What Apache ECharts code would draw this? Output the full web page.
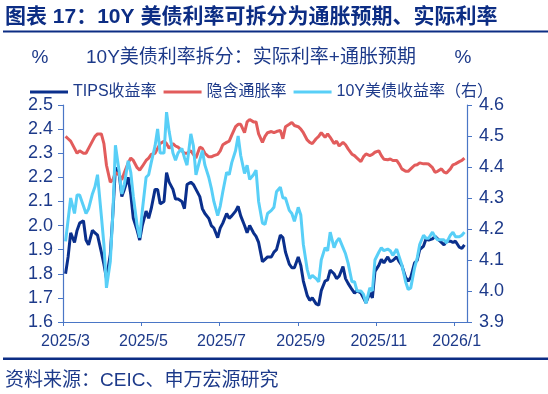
<!DOCTYPE html>
<html>
<head>
<meta charset="utf-8">
<script src="https://cdn.jsdelivr.net/npm/echarts@6/dist/echarts.min.js"></script>
<style>
html,body{margin:0;padding:0;background:#fff;}
#c{width:548px;height:394px;}
</style>
</head>
<body>
<div id="c"></div>
<script>
const dates = [
'2025-03-03','2025-03-05','2025-03-07','2025-03-10','2025-03-12','2025-03-14','2025-03-17','2025-03-19','2025-03-21',
'2025-03-24','2025-03-26','2025-03-28','2025-03-31','2025-04-02','2025-04-04','2025-04-07','2025-04-09','2025-04-11',
'2025-04-14','2025-04-16','2025-04-18','2025-04-21','2025-04-23','2025-04-25','2025-04-28','2025-04-30','2025-05-02',
'2025-05-05','2025-05-07','2025-05-09','2025-05-12','2025-05-14','2025-05-16','2025-05-19','2025-05-21','2025-05-23',
'2025-05-26','2025-05-28','2025-05-30','2025-06-02','2025-06-04','2025-06-06','2025-06-09','2025-06-11','2025-06-13',
'2025-06-16','2025-06-18','2025-06-20','2025-06-23','2025-06-25','2025-06-27','2025-06-30','2025-07-02','2025-07-04',
'2025-07-07','2025-07-09','2025-07-11','2025-07-14','2025-07-16','2025-07-18','2025-07-21','2025-07-23','2025-07-25',
'2025-07-28','2025-07-30','2025-08-01','2025-08-04','2025-08-06','2025-08-08','2025-08-11','2025-08-13','2025-08-15',
'2025-08-18','2025-08-20','2025-08-22','2025-08-25','2025-08-27','2025-08-29','2025-09-01','2025-09-03','2025-09-05',
'2025-09-08','2025-09-10','2025-09-12','2025-09-15','2025-09-17','2025-09-19','2025-09-22','2025-09-24','2025-09-26',
'2025-09-29','2025-10-01','2025-10-03','2025-10-06','2025-10-08','2025-10-10','2025-10-13','2025-10-15','2025-10-17',
'2025-10-20','2025-10-22','2025-10-24','2025-10-27','2025-10-29','2025-10-31','2025-11-03','2025-11-05','2025-11-07',
'2025-11-10','2025-11-12','2025-11-14','2025-11-17','2025-11-19','2025-11-21','2025-11-24','2025-11-26','2025-11-28',
'2025-12-01','2025-12-03','2025-12-05','2025-12-08','2025-12-10','2025-12-12','2025-12-15','2025-12-17','2025-12-19',
'2025-12-22','2025-12-24','2025-12-26','2025-12-29','2025-12-31','2026-01-02','2026-01-05','2026-01-07','2026-01-09'
];

const tipsYield = [
1.80,1.87,1.97, 1.93,1.98,2.01, 2.02,1.94,1.92, 1.98,1.97,1.96, 1.89,1.84,1.78,
1.88,2.05,2.24, 2.21,2.12,2.15, 2.20,2.13,2.03, 1.98,1.94,2.00, 2.06,2.03,2.07,
2.15,2.15,2.09, 2.10,2.22,2.18, 2.15,2.11,2.11, 2.10,2.07,2.17, 2.18,2.17,2.15,
2.12,2.07,2.05, 2.03,2.00,1.99, 1.95,1.99,2.01, 2.05,2.03,2.04, 2.06,2.08,2.04,
2.00,1.97,2.00, 1.97,1.955,1.93, 1.85,1.86,1.87, 1.87,1.89,1.90, 1.96,1.95,1.89,
1.84,1.825,1.825, 1.87,1.835,1.77, 1.71,1.69,1.70, 1.675,1.67,1.73, 1.77,1.775,1.815,
1.80,1.78,1.79, 1.83,1.78,1.76, 1.735,1.72,1.73, 1.72,1.70,1.68, 1.72,1.70,1.81,
1.835,1.86,1.845, 1.87,1.85,1.855, 1.87,1.85,1.835, 1.785,1.77,1.785, 1.845,1.855,1.90,
1.915,1.945,1.94, 1.945,1.955,1.945, 1.93,1.92,1.935, 1.935,1.93,1.935, 1.91,1.905,1.92
];

const breakeven = [
2.37,2.36,2.35, 2.32,2.30,2.31, 2.30,2.30,2.32, 2.35,2.37,2.38, 2.38,2.34,2.25,
2.18,2.19,2.22, 2.21,2.19,2.22, 2.26,2.28,2.27, 2.24,2.23,2.245, 2.27,2.28,2.295,
2.30,2.32,2.34, 2.35,2.34,2.32, 2.34,2.33,2.325, 2.31,2.30,2.30, 2.31,2.295,2.28,
2.325,2.32,2.30, 2.285,2.285,2.29, 2.295,2.31,2.335, 2.345,2.35,2.375, 2.41,2.42,2.42,
2.385,2.43,2.44, 2.43,2.43,2.38, 2.345,2.37,2.385, 2.39,2.385,2.39, 2.395,2.36,2.41,
2.42,2.428,2.415, 2.41,2.40,2.385, 2.355,2.345,2.34, 2.36,2.37,2.385, 2.366,2.38,2.366,
2.34,2.35,2.33, 2.345,2.335,2.318, 2.296,2.29,2.28, 2.265,2.285,2.297, 2.29,2.295,2.304,
2.31,2.29,2.275, 2.273,2.276,2.27, 2.27,2.255,2.235, 2.225,2.225,2.235, 2.25,2.252,2.26,
2.256,2.256,2.255, 2.24,2.221,2.225, 2.235,2.222,2.218, 2.235,2.252,2.256, 2.265,2.27,2.28
];

const ust10y = [
4.16,4.23,4.30, 4.25,4.31,4.31, 4.274,4.25,4.265, 4.313,4.336,4.375, 4.242,4.15,4.01,
4.095,4.25,4.47, 4.383,4.313,4.344, 4.42,4.383,4.305, 4.211,4.172,4.258, 4.367,4.375,4.414,
4.468,4.523,4.445, 4.445,4.577,4.515, 4.445,4.422,4.445, 4.46,4.43,4.406, 4.507,4.468,4.375,
4.422,4.453,4.406, 4.367,4.332,4.289, 4.243,4.274,4.32, 4.383,4.375,4.414, 4.453,4.50,4.437,
4.379,4.406,4.36, 4.375,4.39,4.289, 4.219,4.215,4.25, 4.26,4.27,4.32, 4.335,4.30,4.30,
4.26,4.25,4.225, 4.27,4.245,4.15, 4.07,4.04,4.05, 4.04,4.03,4.10, 4.14,4.13,4.19,
4.14,4.16,4.17, 4.14,4.12,4.09, 4.03,4.03,4.00, 4.00,3.99,3.96, 4.01,4.00,4.10,
4.125,4.14,4.13, 4.135,4.13,4.115, 4.135,4.11,4.085, 4.03,4.005,4.01, 4.075,4.105,4.15,
4.18,4.17,4.17, 4.19,4.175,4.165, 4.165,4.165,4.155, 4.18,4.19,4.175, 4.175,4.18,4.19
];

const xTickLabels = ['2025/3','2025/5','2025/7','2025/9','2025/11','2026/1'];
const xAxisEnd = '2026-01-11';
const seriesNames = ['TIPS收益率','隐含通胀率','10Y美债收益率（右）'];
const chartTitle = '图表 17：10Y 美债利率可拆分为通胀预期、实际利率';
const chartSubtitle = '10Y美债利率拆分：实际利率+通胀预期';
const sourceText = '资料来源：CEIC、申万宏源研究';

const FONT = '"Liberation Sans", "Noto Sans CJK SC", sans-serif';
const TXT = '#1d3a8a';
const AX = '#4a76c6';

function toTime(s) { const p = s.split('-').map(Number); return new Date(p[0], p[1]-1, p[2]).getTime(); }
const tickTimes = xTickLabels.map(s => { const p = s.split('/').map(Number); return new Date(p[0], p[1]-1, 1).getTime(); });
const pairs = arr => arr.map((v, i) => [toTime(dates[i]), v]);

const chart = echarts.init(document.getElementById('c'), null, {renderer:'canvas'});
chart.setOption({
  animation: false,
  backgroundColor: '#fff',
  textStyle: {fontFamily: FONT},
  grid: {left: 63, right: 81, top: 105, bottom: 72},
  legend: {
    left: 25, top: 79, itemWidth: 38, itemHeight: 3, itemGap: 7, icon: 'rect',
    textStyle: {fontSize: 16, color: TXT, fontFamily: FONT},
    data: seriesNames
  },
  xAxis: {
    type: 'value', min: tickTimes[0], max: toTime(xAxisEnd),
    splitLine: {show: false},
    axisLine: {lineStyle: {color: AX, width: 1.2}},
    axisTick: {show: true, length: 4, lineStyle: {color: AX}, customValues: tickTimes},
    axisLabel: {
      customValues: tickTimes, fontSize: 16, color: TXT, margin: 12, fontFamily: FONT,
      padding: [0,0,0,5],
      formatter: function (v) { const i = tickTimes.indexOf(v); return i >= 0 ? xTickLabels[i] : ''; }
    }
  },
  yAxis: [
    {type: 'value', min: 1.6, max: 2.5, interval: 0.1, position: 'left',
     splitLine: {show: false},
     axisLine: {show: true, lineStyle: {color: AX, width: 1.2}},
     axisTick: {show: true, length: 5, lineStyle: {color: AX}},
     axisLabel: {fontSize: 18, color: TXT, margin: 10, fontFamily: FONT, formatter: v => v.toFixed(1)}},
    {type: 'value', min: 3.9, max: 4.6, interval: 0.1, position: 'right',
     splitLine: {show: false},
     axisLine: {show: true, lineStyle: {color: AX, width: 1.2}},
     axisTick: {show: true, length: 5, lineStyle: {color: AX}},
     axisLabel: {fontSize: 18, color: TXT, margin: 12, fontFamily: FONT, formatter: v => v.toFixed(1)}}
  ],
  series: [
    {name: seriesNames[0], type: 'line', yAxisIndex: 0, data: pairs(tipsYield), showSymbol: false,
     lineStyle: {color: '#0a2f8c', width: 3}, itemStyle: {color: '#0a2f8c'}},
    {name: seriesNames[1], type: 'line', yAxisIndex: 0, data: pairs(breakeven), showSymbol: false,
     lineStyle: {color: '#e25c5c', width: 3}, itemStyle: {color: '#e25c5c'}},
    {name: seriesNames[2], type: 'line', yAxisIndex: 1, data: pairs(ust10y), showSymbol: false,
     lineStyle: {color: '#58cff7', width: 3}, itemStyle: {color: '#58cff7'}}
  ],
  graphic: [
    {type: 'text', left: 5, top: 7, style: {text: chartTitle, font: 'bold 21px ' + FONT, fill: '#0c2d84'}},
    {type: 'rect', shape: {x: 3, y: 30.5, width: 545, height: 2}, style: {fill: '#0c2d84'}},
    {type: 'text', x: 251, y: 58, style: {text: chartSubtitle, font: '19px ' + FONT, fill: TXT, align: 'center', verticalAlign: 'middle'}},
    {type: 'text', x: 40, y: 58, style: {text: '%', font: '19px ' + FONT, fill: TXT, align: 'center', verticalAlign: 'middle'}},
    {type: 'text', x: 463, y: 58, style: {text: '%', font: '19px ' + FONT, fill: TXT, align: 'center', verticalAlign: 'middle'}},
    {type: 'rect', shape: {x: 3, y: 357.5, width: 545, height: 2.5}, style: {fill: '#0c2d84'}},
    {type: 'text', x: 5, y: 381, style: {text: sourceText, font: '19px ' + FONT, fill: TXT, verticalAlign: 'middle'}}
  ]
});
</script>
</body>
</html>
